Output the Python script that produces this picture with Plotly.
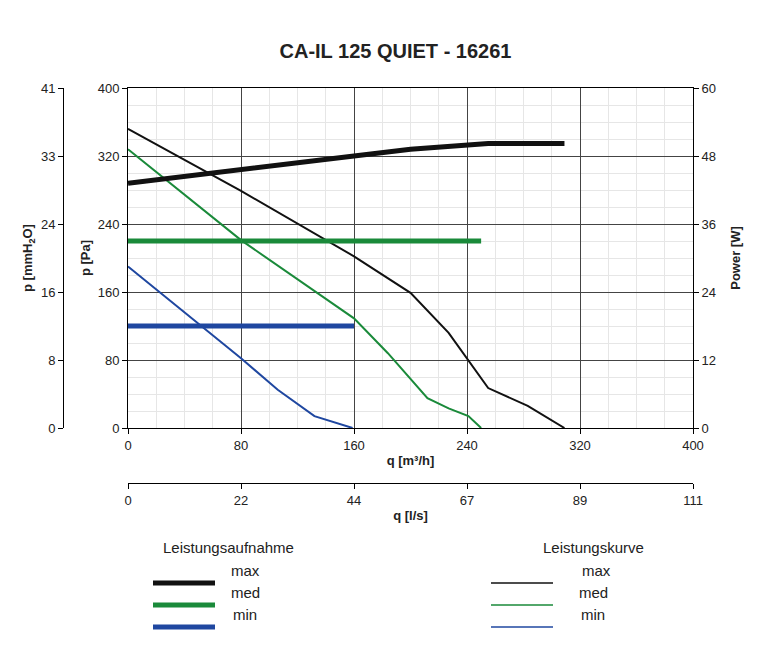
import plotly.graph_objects as go

q_max = [0, 80, 160, 200, 227, 255, 283, 309]
p_max = [352, 279, 202, 159, 112, 47, 26, 0]
q_med = [0, 80, 160, 168, 184, 212, 227, 241, 250]
p_med = [328, 221, 129, 115, 88, 35, 23, 14, 0]
q_min = [0, 80, 106, 132, 159]
p_min = [190, 82, 45, 14, 0]
qw_max = [0, 80, 160, 200, 240, 255, 309]
w_max = [43.2, 45.5, 48, 49.2, 50, 50.2, 50.2]
qw_med = [0, 250]; w_med = [33, 33]
qw_min = [0, 160]; w_min = [18, 18]
pa_ticks = [0, 80, 160, 240, 320, 400]
mm_labels = ["0", "8", "16", "24", "33", "41"]
ls_labels = ["0", "22", "44", "67", "89", "111"]

BLACK, GREEN, BLUE = "#111111", "#1a8a3a", "#1f47a0"
F = "Liberation Sans"
fig = go.Figure()
for x, y, c in [(q_max, p_max, BLACK), (q_med, p_med, GREEN), (q_min, p_min, BLUE)]:
    fig.add_trace(go.Scatter(x=x, y=y, mode="lines", line=dict(color=c, width=2), showlegend=False))
for x, y, c in [(qw_max, w_max, BLACK), (qw_med, w_med, GREEN), (qw_min, w_min, BLUE)]:
    fig.add_trace(go.Scatter(x=x, y=y, yaxis="y2", mode="lines", line=dict(color=c, width=5), showlegend=False))
fig.add_trace(go.Scatter(x=[0, 400], y=[0, 0], yaxis="y3", mode="lines", line=dict(width=0), showlegend=False, hoverinfo="skip"))
fig.add_trace(go.Scatter(x=[0, 400], y=[0, 0], xaxis="x2", mode="lines", line=dict(width=0), showlegend=False, hoverinfo="skip"))

dom0 = (120 - 40) / 645
ax = dict(showline=True, linecolor="black", ticks="outside", tickcolor="black", zeroline=False, automargin=False,
          tickfont=dict(size=13, color="#222"))
fig.update_layout(
    width=775, height=650, margin=dict(l=40, r=90, t=80, b=120, autoexpand=False),
    paper_bgcolor="white", plot_bgcolor="white", font=dict(family=F, color="#222"),
    title=dict(text="<b>CA-IL 125 QUIET - 16261</b>", x=0.5, xanchor="center", y=0.945, automargin=False,
               font=dict(size=20, color="#222")),
    xaxis=dict(ax, domain=[dom0, 1], range=[0, 400], tickvals=pa_ticks, showgrid=True, gridcolor="#444", gridwidth=1,
               minor=dict(dtick=20, showgrid=True, gridcolor="#e6e6e6"), mirror=True,
               title=dict(text="<b>q [m³/h]</b>", font=dict(size=13), standoff=4)),
    yaxis=dict(ax, domain=[110 / 450, 1], range=[0, 400], tickvals=pa_ticks, showgrid=True, gridcolor="#444",
               minor=dict(dtick=20, showgrid=True, gridcolor="#e6e6e6"), mirror=True,
               title=dict(text="<b>p [Pa]</b>", font=dict(size=13), standoff=4)),
    yaxis2=dict(ax, overlaying="y", side="right", range=[0, 60], tickvals=[0, 12, 24, 36, 48, 60], showgrid=False,
                title=dict(text="<b>Power [W]</b>", font=dict(size=13))),
    yaxis3=dict(ax, overlaying="y", anchor="free", position=15 / 645, side="left", range=[0, 400], tickvals=pa_ticks,
                ticktext=mm_labels, showgrid=False, title=dict(text="<b>p [mmH<sub>2</sub>O]</b>", font=dict(size=13), standoff=4)),
    xaxis2=dict(ax, domain=[dom0, 1], overlaying="x", anchor="free", position=55 / 450, side="bottom", range=[0, 400],
                tickvals=pa_ticks, ticktext=ls_labels, showgrid=False,
                title=dict(text="<b>q [l/s]</b>", font=dict(size=13), standoff=4)),
)

def py(y): return (530 - y) / 450
def px(x): return (x - 40) / 645
ann = [("Leistungsaufnahme", 220, 550), ("Leistungskurve", 585, 550),
       ("max", 237, 573), ("med", 237, 595), ("min", 237, 617),
       ("max", 588, 573), ("med", 585, 595), ("min", 585, 617)]
for t, x, y in ann:
    fig.add_annotation(text=t, x=px(x), y=py(y), xref="paper", yref="paper", showarrow=False,
                       font=dict(size=15, color="#222"), xanchor="center")
for c, y in [(BLACK, 575), (GREEN, 597), (BLUE, 619)]:
    fig.add_shape(type="line", xref="paper", yref="paper", x0=px(145), x1=px(207), y0=py(y), y1=py(y), line=dict(color=c, width=5))
    fig.add_shape(type="line", xref="paper", yref="paper", x0=px(483), x1=px(545), y0=py(y), y1=py(y), line=dict(color=c, width=1.5))
fig.write_html("out.html")
